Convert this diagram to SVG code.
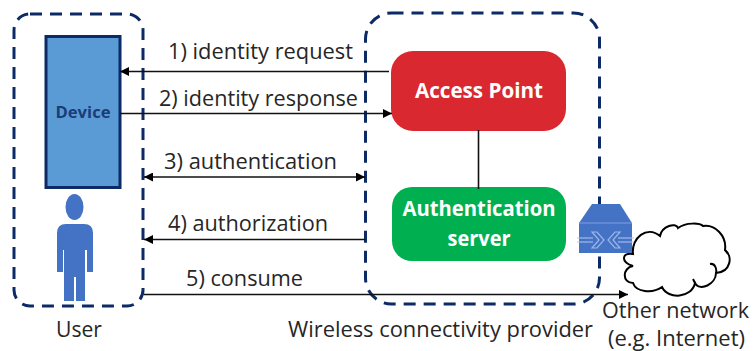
<svg xmlns="http://www.w3.org/2000/svg" width="753" height="351" viewBox="0 0 753 351">
<style>
text{font-family:"Open Sans","Noto Sans","Liberation Sans",sans-serif;}
.lbl{font-size:21px;fill:#262626;}
.zone{fill:none;stroke:#0b2a66;stroke-width:3;stroke-dasharray:12 8;}
.c{stroke:#111;stroke-width:1.6;fill:none;}
.w{font-size:21px;font-weight:700;fill:#fff;text-anchor:middle;}
</style>
<defs>
<marker id="a" viewBox="0 0 10 10" refX="10" refY="5" markerWidth="9" markerHeight="9" markerUnits="userSpaceOnUse" orient="auto-start-reverse"><path d="M0 0L10 5L0 10Z" fill="#000"/></marker>
</defs>
<rect width="753" height="351" fill="#fff"/>
<g id="user-zone"><rect class="zone" x="14" y="14" width="129" height="292" rx="16"/><text class="lbl" x="56" y="337" textLength="46" lengthAdjust="spacingAndGlyphs">User</text></g>
<g id="provider-zone"><rect class="zone" x="365.500" y="13" width="234" height="291" rx="26"/><text class="lbl" x="288" y="337" textLength="305" lengthAdjust="spacingAndGlyphs">Wireless connectivity provider</text></g>
<g id="device"><rect x="46" y="36.500" width="74" height="151" fill="#5b9bd5" stroke="#0b2a66" stroke-width="3"/><text x="83" y="118" font-size="16" font-weight="700" fill="#1a3c78" text-anchor="middle" textLength="55" lengthAdjust="spacingAndGlyphs">Device</text></g>
<g id="person" fill="#4472c4"><ellipse cx="74.500" cy="207" rx="9" ry="13"/><path d="M57 272V233Q57 224 66 224H84Q93 224 93 233V272H87V250H85V301H76V277H74V301H64V250H63V272Z"/></g>
<g id="access-point"><rect x="391" y="51" width="175" height="80" rx="22" fill="#d9282f"/><text class="w" x="479" y="98" textLength="128" lengthAdjust="spacingAndGlyphs">Access Point</text></g>
<g id="auth-server"><rect x="392" y="187" width="174" height="74" rx="20" fill="#00b050"/><text class="w" x="479" y="216" textLength="153" lengthAdjust="spacingAndGlyphs">Authentication</text><text class="w" x="479" y="246" textLength="63" lengthAdjust="spacingAndGlyphs">server</text></g>
<g id="connectors">
<path class="c" d="M389 71.500H120" marker-end="url(#a)"/>
<path class="c" d="M120 113.500H392" marker-end="url(#a)"/>
<path class="c" d="M144 177H365" marker-start="url(#a)" marker-end="url(#a)"/>
<path class="c" d="M365 239.500H144" marker-end="url(#a)"/>
<path class="c" d="M144 294.500H628" marker-end="url(#a)"/>
<path class="c" d="M478.500 130V189"/>
</g>
<g id="labels">
<text class="lbl" x="168" y="59" textLength="185" lengthAdjust="spacingAndGlyphs">1) identity request</text>
<text class="lbl" x="159" y="106" textLength="199" lengthAdjust="spacingAndGlyphs">2) identity response</text>
<text class="lbl" x="164" y="169" textLength="173" lengthAdjust="spacingAndGlyphs">3) authentication</text>
<text class="lbl" x="168" y="231" textLength="160" lengthAdjust="spacingAndGlyphs">4) authorization</text>
<text class="lbl" x="186" y="286" textLength="117" lengthAdjust="spacingAndGlyphs">5) consume</text>
</g>
<g id="cloud"><path d="M633 254C631 238 647 225 660 236C662 226 676 222 678 228C686 222 700 223 703 226C715 224 727 236 725 250C733 256 731 272 716 273C716 284 700 292 695 283C692 298 668 300 662 287C652 294 636 292 633 283C622 283 622 268 633 266C620 262 622 252 633 254Z" fill="#fff" stroke="#000" stroke-width="2"/><path d="M710 264C715 263 717 269 716 273M693 279L695 283M725 250L728 254" fill="none" stroke="#000" stroke-width="2"/></g>
<g id="router"><path d="M592 204H620L632 223V253H579V223Z" fill="#4472c4"/><path d="M632 223H579" stroke="#7f9fdc" stroke-width="1"/><path d="M577 238H593M577 242H593M634 238H618M634 242H618" stroke="#b4c7ee" stroke-width="1.200"/><path d="M592 232H597L604 240L597 248H592L599 240ZM620 232H615L608 240L615 248H620L613 240Z" fill="none" stroke="#9db7e8" stroke-width="1.200"/></g>
<g id="other-network"><text class="lbl" x="602" y="318" textLength="147" lengthAdjust="spacingAndGlyphs">Other network</text><text class="lbl" x="608" y="346" textLength="137" lengthAdjust="spacingAndGlyphs">(e.g. Internet)</text></g>
</svg>
